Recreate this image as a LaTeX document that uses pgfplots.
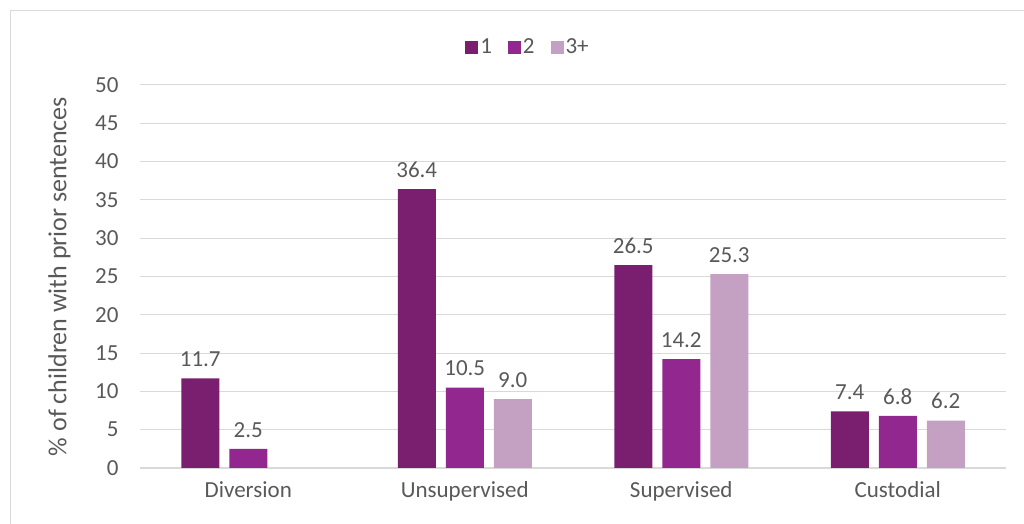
\documentclass[border=0pt]{standalone}
\usepackage{pgfplots}
\pgfplotsset{compat=1.18}
\usepackage{fontspec}
\setmainfont{Carlito}
\definecolor{cA}{RGB}{122,30,112}
\definecolor{cB}{RGB}{146,39,143}
\definecolor{cC}{RGB}{196,160,195}
\definecolor{txt}{RGB}{89,89,89}
\definecolor{grid}{RGB}{217,217,217}
\definecolor{frame}{RGB}{217,217,217}
\begin{document}
\begin{tikzpicture}[x=1pt,y=1pt]
\useasboundingbox (0,0) rectangle (1024,524);
\draw[frame,line width=1pt] (10,-20) -- (10,513) -- (1040,513);
\begin{axis}[
  at={(140pt,56pt)}, anchor=south west,
  scale only axis, width=866pt, height=383pt,
  ybar=10pt, bar width=38pt,
  xmin=-0.5, xmax=3.5, ymin=0, ymax=50,
  ytick={0,5,...,50},
  xtick={0,1,2,3},
  xticklabels={Diversion,Unsupervised,Supervised,Custodial},
  axis x line*=bottom, axis y line*=left,
  x axis line style={draw=grid,line width=1.2pt},
  y axis line style={draw=none},
  ymajorgrids, grid style={draw=grid,line width=1pt},
  major tick length=0pt,
  tick style={draw=none},
  ticklabel style={font=\fontsize{23}{27}\selectfont, text=txt},
  yticklabel style={anchor=east, xshift=-18pt},
  xticklabel style={yshift=-10pt},
  /pgf/number format/assume math mode=true,
  ylabel={\% of children with prior sentences},
  ylabel style={font=\fontsize{26}{30}\selectfont, text=txt, at={(axis description cs:-0.093,0.5)}, rotate=0, anchor=center},
  nodes near coords,
  nodes near coords style={font=\fontsize{23}{27}\selectfont, text=txt, anchor=south, yshift=8pt,
    /pgf/number format/.cd, fixed, fixed zerofill, precision=1, assume math mode=true},
  legend style={at={(0.448,1.099)}, anchor=center, draw=none, legend columns=-1,
    font=\fontsize{23}{27}\selectfont, text=txt,
    /tikz/every even column/.append style={column sep=14pt}},
  legend image code/.code={\fill[#1] (0pt,-6.5pt) rectangle (13pt,6.5pt);},
]
\addplot[fill=cA, draw=none] coordinates {(0,11.7) (1,36.4) (2,26.5) (3,7.4)};
\addplot[fill=cB, draw=none] coordinates {(0,2.5) (1,10.5) (2,14.2) (3,6.8)};
\addplot[fill=cC, draw=none] coordinates {(1,9.0) (2,25.3) (3,6.2)};
\legend{1,2,3+}
\end{axis}
\end{tikzpicture}
\end{document}
